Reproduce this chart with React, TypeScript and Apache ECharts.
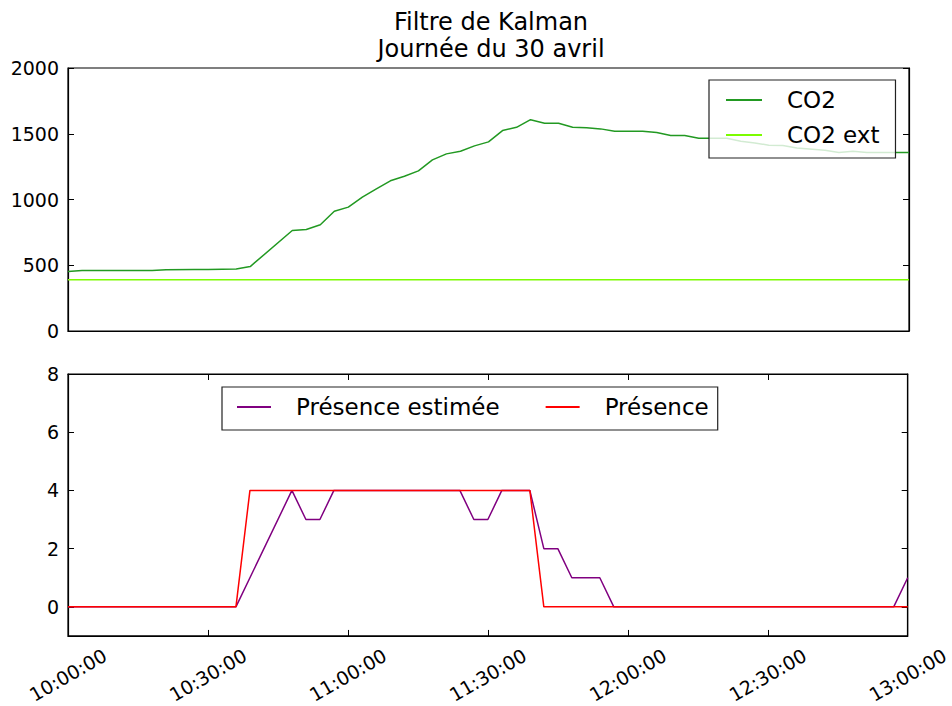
import React, { useEffect, useRef } from "react";
import * as echarts from "echarts";

// Minutes after 10:00:00
const co2Times = [0, 3, 18, 21, 27, 30, 36, 39, 48, 51, 54, 57, 60, 63, 66, 69, 72, 75, 78, 81, 84, 87, 90, 93, 96, 99, 102, 105, 108, 111, 114, 117, 123, 126, 129, 132, 135, 141, 144, 147, 150, 153, 156, 162, 165, 168, 171, 180];
const co2Values = [453, 460, 460, 465, 467, 468, 472, 490, 764, 772, 808, 911, 942, 1018, 1081, 1142, 1177, 1218, 1301, 1347, 1367, 1408, 1438, 1524, 1549, 1607, 1580, 1580, 1549, 1546, 1537, 1519, 1519, 1509, 1486, 1486, 1466, 1466, 1443, 1430, 1413, 1410, 1392, 1375, 1357, 1367, 1357, 1357];

const co2ExtTimes = [0, 180];
const co2ExtValues = [390, 390];

const estTimes = [0, 36, 48, 51, 54, 57, 84, 87, 90, 93, 99, 102, 105, 108, 114, 117, 177, 180];
const estValues = [0, 0, 4, 3, 3, 4, 4, 3, 3, 4, 4, 2, 2, 1, 1, 0, 0, 1];

const presTimes = [0, 36, 39, 99, 102, 180];
const presValues = [0, 0, 4, 4, 0, 0];

const xTicks = [0, 30, 60, 90, 120, 150, 180];
const co2Ticks = [0, 500, 1000, 1500, 2000];
const presTicks = [0, 2, 4, 6, 8];

const FONT = "DejaVu Sans";

const zip = (t: number[], v: number[]) => t.map((x, i) => [x, v[i]]);
const pad = (n: number) => (n < 10 ? "0" + n : "" + n);
const fmtTime = (v: number) => `${10 + Math.floor(v / 60)}:${pad(v % 60)}:00`;

export default function App() {
  const ref = useRef<HTMLDivElement>(null);
  useEffect(() => {
    if (!ref.current) return;
    const chart = echarts.init(ref.current, undefined, { renderer: "svg" });
    const tickStyle = { show: true, inside: true, length: 6, lineStyle: { color: "#000", width: 1 } };
    const lineAx = { show: true, onZero: false, lineStyle: { color: "#000", width: 1.2 } };
    const labelStyle = { fontFamily: FONT, fontSize: 19, color: "#000" };
    const plain = (v: number) => String(v);
    const legendText = { fontFamily: FONT, fontSize: 23, color: "#000", lineHeight: 26, padding: [0, 0, 0, 20] };
    const option: any = {
      animation: false,
      backgroundColor: "#fff",
      title: {
        text: "Filtre de Kalman\nJournée du 30 avril",
        left: 486,
        top: 3,
        textAlign: "center",
        textStyle: { fontFamily: FONT, fontSize: 24, fontWeight: "normal", color: "#000", lineHeight: 27 },
      },
      grid: [
        { left: 68, top: 68, width: 841, height: 263, show: true, borderColor: "#000", borderWidth: 1.2, backgroundColor: "transparent" },
        { left: 68, top: 374, width: 841, height: 262, show: true, borderColor: "#000", borderWidth: 1.2, backgroundColor: "transparent" },
      ],
      xAxis: [
        {
          type: "value", gridIndex: 0, min: 0, max: 180, interval: 30,
          axisLine: lineAx, axisTick: { show: false }, axisLabel: { show: false }, splitLine: { show: false },
        },
        {
          type: "value", gridIndex: 1, min: 0, max: 180, interval: 30, position: "bottom",
          axisLine: lineAx, axisTick: { ...tickStyle, customValues: xTicks }, splitLine: { show: false },
          axisLabel: {
            ...labelStyle, rotate: 30, align: "center", verticalAlign: "middle", margin: 39,
            customValues: xTicks, formatter: (v: number) => fmtTime(v),
          },
        },
        {
          type: "value", gridIndex: 1, min: 0, max: 180, interval: 30, position: "top",
          axisLine: lineAx, axisTick: { ...tickStyle, customValues: xTicks }, axisLabel: { show: false }, splitLine: { show: false },
        },
      ],
      yAxis: [
        {
          type: "value", gridIndex: 0, min: 0, max: 2000, interval: 500, position: "left",
          axisLine: lineAx, axisTick: { ...tickStyle, customValues: co2Ticks }, splitLine: { show: false },
          axisLabel: { ...labelStyle, margin: 9, customValues: co2Ticks, formatter: plain },
        },
        {
          type: "value", gridIndex: 0, min: 0, max: 2000, interval: 500, position: "right",
          axisLine: lineAx, axisTick: { ...tickStyle, customValues: co2Ticks }, axisLabel: { show: false }, splitLine: { show: false },
        },
        {
          type: "value", gridIndex: 1, min: -1, max: 8, position: "left",
          axisLine: lineAx, axisTick: { ...tickStyle, customValues: presTicks }, splitLine: { show: false },
          axisLabel: { ...labelStyle, margin: 9, customValues: presTicks, formatter: plain },
        },
        {
          type: "value", gridIndex: 1, min: -1, max: 8, position: "right",
          axisLine: lineAx, axisTick: { ...tickStyle, customValues: presTicks }, axisLabel: { show: false }, splitLine: { show: false },
        },
      ],
      legend: [
        {
          data: ["CO2", "CO2 ext"],
          orient: "vertical",
          left: 709, top: 80,
          padding: [7, 16, 10, 17],
          icon: "rect",
          itemWidth: 36, itemHeight: 2, itemGap: 9,
          borderColor: "#222", borderWidth: 1.2,
          backgroundColor: "rgba(255,255,255,0.8)",
          textStyle: legendText,
          selectedMode: false,
        },
        {
          data: ["Présence estimée", "Présence"],
          orient: "horizontal",
          left: 222, top: 387,
          padding: [7, 9, 10, 15],
          icon: "rect",
          itemWidth: 34, itemHeight: 2, itemGap: 46,
          borderColor: "#222", borderWidth: 1.2,
          backgroundColor: "rgba(255,255,255,0.8)",
          textStyle: legendText,
          selectedMode: false,
        },
      ],
      series: [
        {
          name: "CO2", type: "line", xAxisIndex: 0, yAxisIndex: 0, symbol: "none",
          data: zip(co2Times, co2Values), color: "#229922", lineStyle: { width: 1.5, color: "#229922" },
        },
        {
          name: "CO2 ext", type: "line", xAxisIndex: 0, yAxisIndex: 0, symbol: "none",
          data: zip(co2ExtTimes, co2ExtValues), color: "#7CFC00", lineStyle: { width: 1.5, color: "#7CFC00" },
        },
        {
          name: "Présence estimée", type: "line", xAxisIndex: 1, yAxisIndex: 2, symbol: "none",
          data: zip(estTimes, estValues), color: "#800080", lineStyle: { width: 1.5, color: "#800080" },
        },
        {
          name: "Présence", type: "line", xAxisIndex: 1, yAxisIndex: 2, symbol: "none",
          data: zip(presTimes, presValues), color: "#ff0000", lineStyle: { width: 1.5, color: "#ff0000" },
        },
      ],
    };
    chart.setOption(option);
    return () => chart.dispose();
  }, []);
  return (
    <div
      ref={ref}
      style={{ position: "fixed", left: 0, top: 0, width: 952, height: 706, background: "#fff" }}
    />
  );
}
